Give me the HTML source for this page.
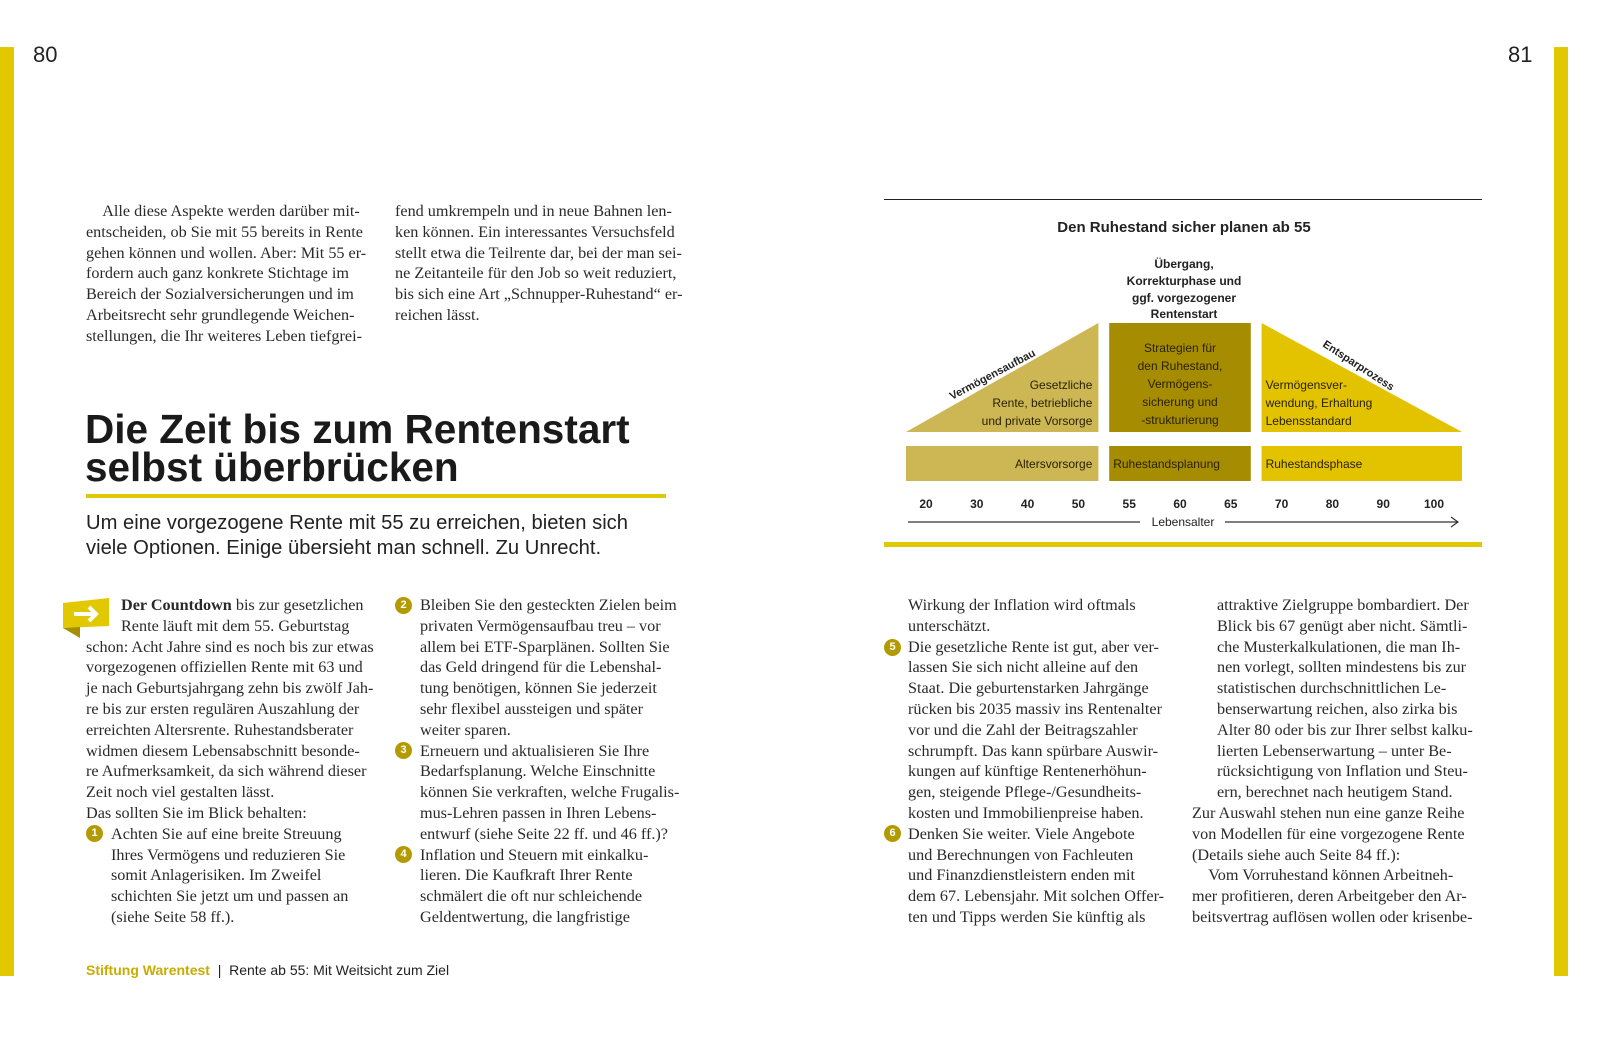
<!DOCTYPE html>
<html><head><meta charset="utf-8">
<style>
body{margin:0;width:1598px;height:1041px;background:#fff;position:relative;overflow:hidden;font-family:"Liberation Serif",serif;color:#222}
.a{position:absolute}
.t{position:absolute;font-size:16.2px;line-height:20.8px;white-space:nowrap;color:#2a2a2a}
.n{position:absolute;width:17px;height:17px;border-radius:50%;background:#b39a00;color:#fff;font:bold 11px/17px "Liberation Sans",sans-serif;text-align:center}
.s{font-family:"Liberation Sans",sans-serif}
</style></head><body>
<div class="a" style="left:0;top:47px;width:14px;height:929px;background:#e2c800"></div>
<div class="a" style="left:1554px;top:47px;width:14px;height:929px;background:#e2c800"></div>
<div class="a s" style="left:33px;top:42px;font-size:22px">80</div>
<div class="a s" style="left:1508px;top:42px;font-size:22px">81</div>

<div class="t" style="left:86px;top:201px">&nbsp;&nbsp;&nbsp;&nbsp;Alle diese Aspekte werden darüber mit-<br>entscheiden, ob Sie mit 55 bereits in Rente<br>gehen können und wollen. Aber: Mit 55 er-<br>fordern auch ganz konkrete Stichtage im<br>Bereich der Sozialversicherungen und im<br>Arbeitsrecht sehr grundlegende Weichen-<br>stellungen, die Ihr weiteres Leben tiefgrei-</div>
<div class="t" style="left:395px;top:201px">fend umkrempeln und in neue Bahnen len-<br>ken können. Ein interessantes Versuchsfeld<br>stellt etwa die Teilrente dar, bei der man sei-<br>ne Zeitanteile für den Job so weit reduziert,<br>bis sich eine Art „Schnupper-Ruhestand“ er-<br>reichen lässt.</div>

<div class="a s" style="left:85px;top:410px;font-size:40.5px;line-height:38px;font-weight:bold;color:#1a1a1a">Die Zeit bis zum Rentenstart<br>selbst überbrücken</div>
<div class="a" style="left:86px;top:494px;width:580px;height:4px;background:#e2c800"></div>
<div class="a s" style="left:86px;top:511px;font-size:20.2px;line-height:25px;color:#222">Um eine vorgezogene Rente mit 55 zu erreichen, bieten sich<br>viele Optionen. Einige übersieht man schnell. Zu Unrecht.</div>

<svg class="a" style="left:60px;top:598px" width="52" height="42"><polygon points="3,5 49,0 49,28 3,30" fill="#e2c800"/><polygon points="3,30 20,29 20,40" fill="#a58f00"/><path d="M14,16 H36 M29,9 L36,16 L29,23" stroke="#fff" stroke-width="4" fill="none"/></svg>

<div class="t" style="left:86px;top:595px"><span style="margin-left:35px"><b>Der Countdown</b> bis zur gesetzlichen</span><br><span style="margin-left:35px">Rente läuft mit dem 55. Geburtstag</span><br>schon: Acht Jahre sind es noch bis zur etwas<br>vorgezogenen offiziellen Rente mit 63 und<br>je nach Geburtsjahrgang zehn bis zwölf Jah-<br>re bis zur ersten regulären Auszahlung der<br>erreichten Altersrente. Ruhestandsberater<br>widmen diesem Lebensabschnitt besonde-<br>re Aufmerksamkeit, da sich während dieser<br>Zeit noch viel gestalten lässt.<br>Das sollten Sie im Blick behalten:<br><span style="margin-left:25px">Achten Sie auf eine breite Streuung</span><br><span style="margin-left:25px">Ihres Vermögens und reduzieren Sie</span><br><span style="margin-left:25px">somit Anlagerisiken. Im Zweifel</span><br><span style="margin-left:25px">schichten Sie jetzt um und passen an</span><br><span style="margin-left:25px">(siehe Seite 58 ff.).</span></div>
<div class="n" style="left:86px;top:825px">1</div>

<div class="t" style="left:420px;top:595px">Bleiben Sie den gesteckten Zielen beim<br>privaten Vermögensaufbau treu – vor<br>allem bei ETF-Sparplänen. Sollten Sie<br>das Geld dringend für die Lebenshal-<br>tung benötigen, können Sie jederzeit<br>sehr flexibel aussteigen und später<br>weiter sparen.<br>Erneuern und aktualisieren Sie Ihre<br>Bedarfsplanung. Welche Einschnitte<br>können Sie verkraften, welche Frugalis-<br>mus-Lehren passen in Ihren Lebens-<br>entwurf (siehe Seite 22 ff. und 46 ff.)?<br>Inflation und Steuern mit einkalku-<br>lieren. Die Kaufkraft Ihrer Rente<br>schmälert die oft nur schleichende<br>Geldentwertung, die langfristige</div>
<div class="n" style="left:395px;top:597px">2</div>
<div class="n" style="left:395px;top:742px">3</div>
<div class="n" style="left:395px;top:846px">4</div>

<div class="t" style="left:908px;top:595px">Wirkung der Inflation wird oftmals<br>unterschätzt.<br>Die gesetzliche Rente ist gut, aber ver-<br>lassen Sie sich nicht alleine auf den<br>Staat. Die geburtenstarken Jahrgänge<br>rücken bis 2035 massiv ins Rentenalter<br>vor und die Zahl der Beitragszahler<br>schrumpft. Das kann spürbare Auswir-<br>kungen auf künftige Rentenerhöhun-<br>gen, steigende Pflege-/Gesundheits-<br>kosten und Immobilienpreise haben.<br>Denken Sie weiter. Viele Angebote<br>und Berechnungen von Fachleuten<br>und Finanzdienstleistern enden mit<br>dem 67. Lebensjahr. Mit solchen Offer-<br>ten und Tipps werden Sie künftig als</div>
<div class="n" style="left:884px;top:639px">5</div>
<div class="n" style="left:884px;top:825px">6</div>

<div class="t" style="left:1192px;top:595px"><span style="margin-left:25px">attraktive Zielgruppe bombardiert. Der</span><br><span style="margin-left:25px">Blick bis 67 genügt aber nicht. Sämtli-</span><br><span style="margin-left:25px">che Musterkalkulationen, die man Ih-</span><br><span style="margin-left:25px">nen vorlegt, sollten mindestens bis zur</span><br><span style="margin-left:25px">statistischen durchschnittlichen Le-</span><br><span style="margin-left:25px">benserwartung reichen, also zirka bis</span><br><span style="margin-left:25px">Alter 80 oder bis zur Ihrer selbst kalku-</span><br><span style="margin-left:25px">lierten Lebenserwartung – unter Be-</span><br><span style="margin-left:25px">rücksichtigung von Inflation und Steu-</span><br><span style="margin-left:25px">ern, berechnet nach heutigem Stand.</span><br>Zur Auswahl stehen nun eine ganze Reihe<br>von Modellen für eine vorgezogene Rente<br>(Details siehe auch Seite 84 ff.):<br>&nbsp;&nbsp;&nbsp;&nbsp;Vom Vorruhestand können Arbeitneh-<br>mer profitieren, deren Arbeitgeber den Ar-<br>beitsvertrag auflösen wollen oder krisenbe-</div>

<div class="a s" style="left:86px;top:962px;font-size:14px;color:#222"><b style="color:#c9ac00">Stiftung Warentest</b> &nbsp;|&nbsp; Rente ab 55: Mit Weitsicht zum Ziel</div>

<!-- chart -->
<div class="a" style="left:884px;top:199px;width:598px;height:1px;background:#222"></div>
<div class="a" style="left:884px;top:542px;width:598px;height:5px;background:#e2c800"></div>
<svg class="a" id="chart" style="left:880px;top:200px" width="600" height="340" font-family="Liberation Sans, sans-serif" font-weight="bold" fill="#222">
<text x="304" y="32" font-size="15" text-anchor="middle">Den Ruhestand sicher planen ab 55</text>
<g font-size="12" text-anchor="middle"><text x="304" y="68">Übergang,</text><text x="304" y="85">Korrekturphase und</text><text x="304" y="102">ggf. vorgezogener</text><text x="304" y="118">Rentenstart</text></g>
</svg>
<script>
const ageTicks=["20","30","40","50","55","60","65","70","80","90","100"];
const phaseNames=["Altersvorsorge","Ruhestandsplanung","Ruhestandsphase"];
const phaseStart=[0,4,7];
const phaseEnd=[3,6,10];
const svg=document.getElementById('chart');
const NS='http://www.w3.org/2000/svg';
const x0=46,step=50.8;
function xs(i){return x0+i*step;}
function el(t,a,txt){const e=document.createElementNS(NS,t);for(const k in a)e.setAttribute(k,a[k]);if(txt!=null)e.textContent=txt;svg.appendChild(e);return e;}
const cols=["#cdb654","#a68c00","#e3c300"];
const topY=123,botY=232;
phaseNames.forEach((p,i)=>{
  const L=xs(phaseStart[i])-20,R=xs(phaseEnd[i])+(i==2?28:20);
  let pts;
  if(i==0)pts=`${L},${botY} ${R},${topY} ${R},${botY}`;
  else if(i==1)pts=`${L},${topY} ${R},${topY} ${R},${botY} ${L},${botY}`;
  else pts=`${L},${topY} ${R},${botY} ${L},${botY}`;
  const s=el('polygon',{points:pts,fill:cols[i]});
  
  
  const b=el('rect',{x:L,y:246,width:R-L,height:35,fill:cols[i]});
  
  
  const t=el('text',{x:i==0?R-6:L+4,y:268,'font-size':12,'text-anchor':i==0?'end':'start',fill:'#2a2200','font-weight':'normal'},p);
  
  
});
const inner=[["Gesetzliche","Rente, betriebliche","und private Vorsorge"],["Strategien für","den Ruhestand,","Vermögens-","sicherung und","-strukturierung"],["Vermögensver-","wendung, Erhaltung","Lebensstandard"]];
inner.forEach((ls,i)=>{
  const L=xs(phaseStart[i])-20,R=xs(phaseEnd[i])+20;
  const y0=i==1?152:189;
  ls.forEach((l,j)=>{
    const t=el('text',{x:i==0?R-6:(i==1?(L+R)/2:L+4),y:y0+j*18,'font-size':12,'text-anchor':i==0?'end':(i==1?'middle':'start'),fill:'#2a2200','font-weight':'normal'},l);
    
    
  });
});
let a1=el('text',{x:0,y:0,'font-size':11,transform:`translate(72,200) rotate(-28)`},'Vermögensaufbau');

let a2=el('text',{x:0,y:0,'font-size':11,transform:`translate(442,146) rotate(33)`},'Entsparprozess');

ageTicks.forEach((a,i)=>{
  const t=el('text',{x:xs(i),y:308,'font-size':12,'text-anchor':'middle'},a);
  
  
});
const ax=el('path',{d:`M28,322 H260 M345,322 H578 M571,317 L578,322 L571,327`,stroke:'#333','stroke-width':1.2,fill:'none'});


const al=el('text',{x:303,y:326,'font-size':12,'text-anchor':'middle','font-weight':'normal'},'Lebensalter');


</script>
</body></html>
